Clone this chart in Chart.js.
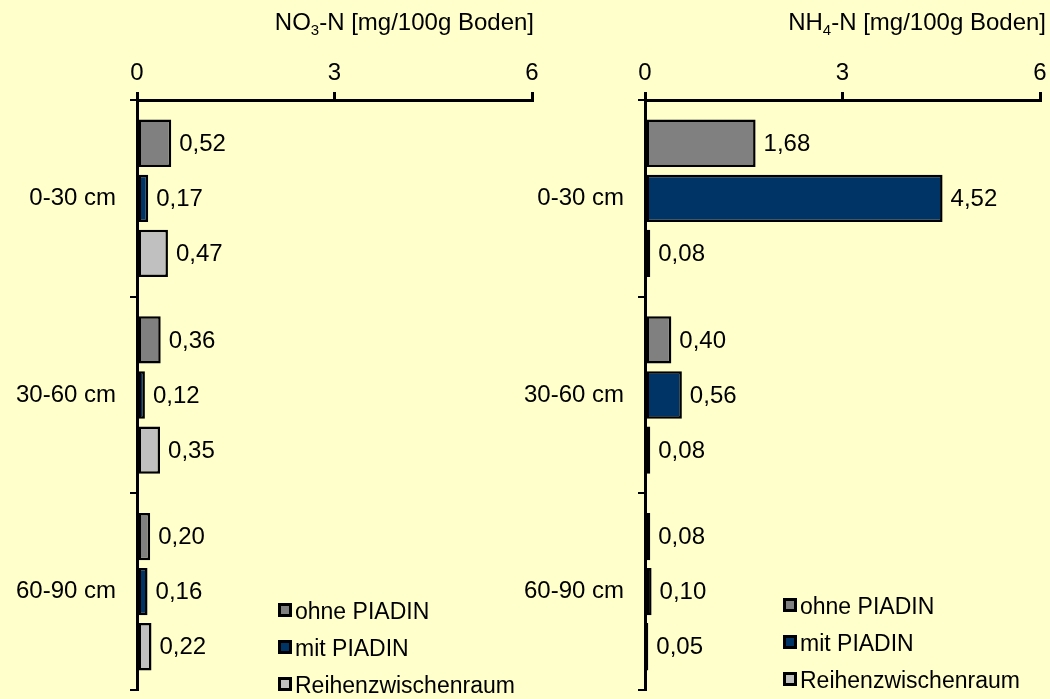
<!DOCTYPE html>
<html><head><meta charset="utf-8">
<script src="https://cdn.jsdelivr.net/npm/chart.js@4.4.1/dist/chart.umd.min.js"></script>
<style>
html,body{margin:0;padding:0;background:#FFFFCC;width:1050px;height:699px;overflow:hidden;font-family:"Liberation Sans",Arial,sans-serif;}
.wrap{position:absolute;top:0;}
.title{position:absolute;font-size:24px;color:#000;white-space:nowrap;line-height:24px;}
.title sub{font-size:15px;vertical-align:-5px;line-height:0;}
.legend{position:absolute;font-size:23px;color:#000;}
.legend div{height:37px;line-height:37px;white-space:nowrap;}
.legend span{display:inline-block;width:8px;height:8px;border:3px solid #000;margin-right:3px;vertical-align:2px;}
</style></head>
<body>
<div class="wrap" style="left:0;width:545px;height:699px;"><canvas id="c1" width="545" height="699"></canvas></div>
<div class="wrap" style="left:480px;width:570px;height:699px;"><canvas id="c2" width="570" height="699"></canvas></div>
<div class="title" style="right:516px;top:10px;">NO<sub>3</sub>-N [mg/100g Boden]</div>
<div class="title" style="right:4px;top:10px;">NH<sub>4</sub>-N [mg/100g Boden]</div>
<div class="legend" style="left:278px;top:593px;">
 <div><span style="background:#808080"></span>ohne PIADIN</div>
 <div><span style="background:#003366"></span>mit PIADIN</div>
 <div><span style="background:#C0C0C0"></span>Reihenzwischenraum</div>
</div>
<div class="legend" style="left:783px;top:588px;">
 <div><span style="background:#808080"></span>ohne PIADIN</div>
 <div><span style="background:#003366"></span>mit PIADIN</div>
 <div><span style="background:#C0C0C0"></span>Reihenzwischenraum</div>
</div>
<script>
const categories = ["0-30 cm", "30-60 cm", "60-90 cm"];
const seriesNames = ["ohne PIADIN", "mit PIADIN", "Reihenzwischenraum"];
const seriesColors = ["#808080", "#003366", "#C0C0C0"];
const no3_ohne = [0.52, 0.36, 0.20];
const no3_mit = [0.17, 0.12, 0.16];
const no3_reihen = [0.47, 0.35, 0.22];
const nh4_ohne = [1.68, 0.40, 0.08];
const nh4_mit = [4.52, 0.56, 0.10];
const nh4_reihen = [0.08, 0.08, 0.05];
const xTicks = [0, 3, 6];

const FONT = {family: '"Liberation Sans", Arial, sans-serif', size: 24};

const valueLabels = {
  id: 'valueLabels',
  afterDatasetsDraw(chart) {
    const ctx = chart.ctx;
    ctx.save();
    ctx.font = '24px "Liberation Sans", Arial, sans-serif';
    ctx.fillStyle = '#000';
    ctx.textBaseline = 'middle';
    ctx.textAlign = 'left';
    chart.data.datasets.forEach((ds, i) => {
      chart.getDatasetMeta(i).data.forEach((bar, j) => {
        ctx.fillText(ds.data[j].toFixed(2).replace('.', ','), bar.x + 8, bar.y + 1);
      });
    });
    ctx.restore();
  }
};

function makeChart(id, d1, d2, d3, yWidth, padRight) {
  const sets = [d1, d2, d3].map((d, i) => ({
    label: seriesNames[i], data: d, backgroundColor: seriesColors[i],
    borderColor: '#000', borderWidth: 2.5, borderSkipped: false,
    categoryPercentage: 0.84, barPercentage: 0.86
  }));
  return new Chart(document.getElementById(id), {
    type: 'bar',
    data: {labels: categories, datasets: sets},
    plugins: [valueLabels],
    options: {
      indexAxis: 'y', responsive: false, animation: false,
      layout: {padding: {top: 0, right: padRight, bottom: 9, left: 0}},
      plugins: {legend: {display: false}, tooltip: {enabled: false}},
      scales: {
        x: {
          position: 'top', min: 0, max: 6,
          afterBuildTicks: s => { s.ticks = xTicks.map(v => ({value: v})); },
          afterFit: s => { s.height = 100; s.paddingLeft = 0; s.paddingRight = 0; },
          ticks: {color: '#000', font: FONT, padding: 4, maxRotation: 0},
          grid: {drawOnChartArea: false, tickLength: 8, color: '#000', lineWidth: 3},
          border: {color: '#000', width: 3}
        },
        y: {
          afterFit: s => { s.width = yWidth; s.paddingTop = 0; s.paddingBottom = 0; },
          ticks: {color: '#000', font: FONT, padding: 14},
          grid: {offset: true, drawOnChartArea: false, tickLength: 7, color: '#000', lineWidth: 2},
          border: {color: '#000', width: 3}
        }
      }
    }
  });
}
makeChart('c1', no3_ohne, no3_mit, no3_reihen, 137, 13);
makeChart('c2', nh4_ohne, nh4_mit, nh4_reihen, 165, 10);
</script>
</body></html>
